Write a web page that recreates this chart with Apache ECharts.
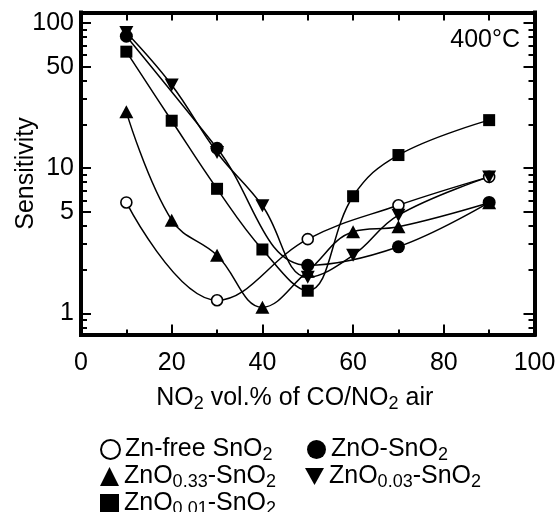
<!DOCTYPE html>
<html>
<head>
<meta charset="utf-8">
<script src="https://cdn.jsdelivr.net/npm/echarts@6/dist/echarts.min.js"></script>
<style>
  html, body { margin: 0; padding: 0; background: #fff; }
  #chart { width: 558px; height: 512px; }
</style>
</head>
<body>
<div id="chart"></div>
<script>
// NO2 content (vol.%) where each sample was measured
const xOdd = [10, 30, 50, 70, 90]
const xAll = [10, 20, 30, 40, 50, 60, 70, 90]

// sensitivity (log scale)
const znFree = [5.8, 1.23, 3.24, 5.55, 8.7]
const znO = [81, 13.7, 2.14, 2.87, 5.8]
const znO033 = [24.4, 4.38, 2.51, 1.1, 1.95, 3.64, 3.94, 5.77]
const znO003 = [86, 37.4, 12.8, 5.5, 1.77, 2.51, 4.74, 8.7]
const znO001 = [63.4, 21.2, 7.2, 2.75, 1.43, 6.4, 12.3, 21.4]

// axis ranges and ticks
const xMin = 0
const xMax = 100
const yMin = 0.714
const yMax = 118
const yTickLabels = [1, 5, 10, 50, 100]
const yMinorTicks = [0.8, 0.9, 2, 3, 4, 6, 7, 8, 9, 20, 30, 40, 60, 70, 80, 90]

const FONT = 'Liberation Sans, Arial, sans-serif'
const INV_TRI = 'path://M0,0L10,0L5,9Z'

const pair = (xs, ys) => xs.map((x, i) => [x, ys[i]])
const lg = Math.log10

// rich text with subscripts, used by legend and x axis name
const rich = {
  m: { fontSize: 25, fontFamily: FONT, color: '#000', lineHeight: 30 },
  s: { fontSize: 18, fontFamily: FONT, color: '#000', lineHeight: 16, verticalAlign: 'bottom' }
}

const legendText = {
  'Zn-free SnO2': '{m|Zn-free SnO}{s|2}',
  'ZnO-SnO2': '{m|ZnO-SnO}{s|2}',
  'ZnO0.33-SnO2': '{m|ZnO}{s|0.33}{m|-SnO}{s|2}',
  'ZnO0.03-SnO2': '{m|ZnO}{s|0.03}{m|-SnO}{s|2}',
  'ZnO0.01-SnO2': '{m|ZnO}{s|0.01}{m|-SnO}{s|2}'
}

const black = { color: '#000', borderWidth: 0 }
const openStyle = { color: '#fff', borderColor: '#000', borderWidth: 1.6 }

const makeSeries = (name, data, symbol, size, itemStyle) => ({
  name,
  type: 'line',
  xAxisIndex: 0,
  yAxisIndex: 0,
  data,
  smooth: 0.4,
  symbol,
  symbolSize: size,
  showAllSymbol: true,
  lineStyle: { color: '#000', width: 1.5 },
  itemStyle,
  emphasis: { disabled: true },
  z: 3
})

const makeLegend = (name, icon, itemStyle, left, top) => ({
  left,
  top,
  padding: 0,
  orient: 'vertical',
  selectedMode: false,
  itemWidth: 19,
  itemHeight: 19,
  data: [{ name, icon, itemStyle }],
  formatter: n => legendText[n],
  textStyle: { rich }
})

const frameLine = { show: true, onZero: false, lineStyle: { color: '#000', width: 4, cap: 'square' } }
const tickStyle = { color: '#000', width: 2 }

// value axes in log10 units, only used to draw ticks and labels of the log axis
const logTickAxis = (position, values, length, withLabels, name) => ({
  type: 'value',
  position,
  min: lg(yMin),
  max: lg(yMax),
  axisLine: { show: false, onZero: false },
  splitLine: { show: false },
  axisTick: { show: true, inside: true, length, lineStyle: tickStyle, customValues: values.map(lg) },
  axisLabel: withLabels ? {
    show: true,
    customValues: values.map(lg),
    formatter: v => String(Math.round(Math.pow(10, v) * 100) / 100),
    fontSize: 25,
    fontFamily: FONT,
    color: '#000',
    margin: 7
  } : { show: false },
  name: name || '',
  nameLocation: 'middle',
  nameGap: 42,
  nameMoveOverlap: false,
  nameTextStyle: { fontSize: 25, fontFamily: FONT, color: '#000', lineHeight: 26 }
})

const chart = echarts.init(document.getElementById('chart'))

chart.setOption({
  animation: false,
  backgroundColor: '#fff',
  grid: { left: 81, right: 23.5, top: 12.5, bottom: 177.5, containLabel: false, outerBoundsMode: 'none' },
  xAxis: [
    {
      type: 'value',
      position: 'bottom',
      min: xMin,
      max: xMax,
      interval: 20,
      axisLine: frameLine,
      axisTick: { show: true, inside: true, length: 10, lineStyle: tickStyle },
      minorTick: { show: true, splitNumber: 2, length: 5, lineStyle: tickStyle },
      splitLine: { show: false },
      minorSplitLine: { show: false },
      axisLabel: { fontSize: 25, fontFamily: FONT, color: '#000', margin: 16 },
      name: '{m|NO}{s|2}{m| vol.% of CO/NO}{s|2}{m| air}',
      nameLocation: 'middle',
      nameGap: 49,
      nameMoveOverlap: false,
      nameTextStyle: { rich, padding: [0, 26, 0, 0] }
    },
    {
      type: 'value',
      position: 'top',
      min: xMin,
      max: xMax,
      interval: 10,
      axisLine: frameLine,
      axisTick: { show: true, inside: true, length: 8, lineStyle: tickStyle },
      splitLine: { show: false },
      axisLabel: { show: false }
    }
  ],
  yAxis: [
    {
      type: 'log',
      position: 'left',
      min: yMin,
      max: yMax,
      show: false
    },
    Object.assign(logTickAxis('left', yTickLabels, 10, true, 'Sensitivity'), { axisLine: frameLine }),
    logTickAxis('left', yMinorTicks, 6, false),
    Object.assign(logTickAxis('right', yTickLabels, 11, false), { axisLine: frameLine }),
    logTickAxis('right', yMinorTicks, 6, false)
  ],
  legend: [
    makeLegend('Zn-free SnO2', 'circle', { color: '#fff', borderColor: '#000', borderWidth: 2 }, 100, 437),
    makeLegend('ZnO-SnO2', 'circle', black, 307, 437),
    makeLegend('ZnO0.33-SnO2', 'triangle', black, 100, 464),
    makeLegend('ZnO0.03-SnO2', INV_TRI, black, 305, 464),
    makeLegend('ZnO0.01-SnO2', 'rect', black, 100, 491)
  ],
  graphic: [
    {
      type: 'text',
      right: 38,
      top: 28,
      style: { text: '400°C', font: '25px ' + FONT, fill: '#000' }
    }
  ],
  series: [
    makeSeries('Zn-free SnO2', pair(xOdd, znFree), 'circle', 11, openStyle),
    makeSeries('ZnO-SnO2', pair(xOdd, znO), 'circle', 13, black),
    makeSeries('ZnO0.33-SnO2', pair(xAll, znO033), 'triangle', [14, 13], black),
    makeSeries('ZnO0.03-SnO2', pair(xAll, znO003), INV_TRI, [14, 13], black),
    makeSeries('ZnO0.01-SnO2', pair(xAll, znO001), 'rect', 12, black)
  ]
})
</script>
</body>
</html>
